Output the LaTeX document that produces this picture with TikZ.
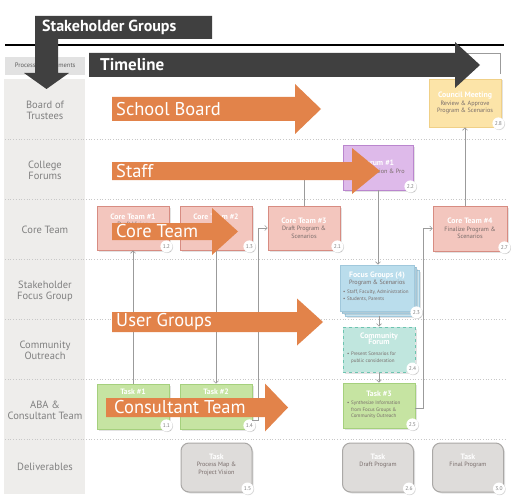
\documentclass[tikz,border=0pt]{standalone}
\usepackage{fontspec}
\setmainfont{PT Sans}
\usetikzlibrary{arrows.meta,shadows}
\definecolor{orA}{RGB}{226,131,74}
\definecolor{darkA}{RGB}{64,64,64}
\definecolor{pinkF}{RGB}{243,198,190}
\definecolor{pinkD}{RGB}{215,140,130}
\definecolor{purpF}{RGB}{222,186,234}
\definecolor{purpD}{RGB}{186,134,206}
\definecolor{yelF}{RGB}{252,228,168}
\definecolor{yelD}{RGB}{240,208,135}
\definecolor{blueF}{RGB}{186,221,236}
\definecolor{blueD}{RGB}{160,200,220}
\definecolor{tealF}{RGB}{192,230,222}
\definecolor{tealD}{RGB}{110,196,176}
\definecolor{greenF}{RGB}{198,228,162}
\definecolor{greenD}{RGB}{165,208,125}
\definecolor{grayF}{RGB}{222,220,218}
\definecolor{grayD}{RGB}{170,168,166}
\definecolor{colF}{RGB}{238,237,235}
\definecolor{preqF}{RGB}{226,226,226}
\definecolor{subT}{RGB}{120,108,106}
\definecolor{lblT}{RGB}{128,128,128}
\definecolor{connC}{RGB}{155,155,155}
\definecolor{sepC}{RGB}{200,200,200}
\newcommand\bxttl[1]{{\fontsize{7.8}{9}\selectfont\bfseries\color{white}#1}}
\newcommand\orarr[6]{\fill[orA] (#1,#2-#3) -- (#4,#2-#3) -- (#4,#2-#5) -- (#6,#2) -- (#4,#2+#5) -- (#4,#2+#3) -- (#1,#2+#3) -- cycle;}
\begin{document}
\begin{tikzpicture}[x=1pt,y=-1pt,
  box/.style={rectangle, minimum width=72pt, minimum height=45pt, inner sep=1pt, align=center, line width=0.8pt, text=subT,
    font=\fontsize{6.2}{7.4}\selectfont, drop shadow={shadow xshift=1.5pt, shadow yshift=-1.5pt, opacity=0.22}},
  pinkbox/.style={box, fill=pinkF, draw=pinkD},
  greenbox/.style={box, fill=greenF, draw=greenD},
  delbox/.style={rectangle, rounded corners=8pt, minimum width=71pt, minimum height=49pt, fill=grayF, draw=grayD, line width=1pt,
    drop shadow={shadow xshift=1.5pt, shadow yshift=-1.5pt, opacity=0.22}},
  btext/.style={align=center, inner sep=0pt, text=subT, font=\fontsize{6.2}{7.6}\selectfont},
  bull/.style={align=left, inner sep=0pt, text=subT, font=\fontsize{5}{6.4}\selectfont},
  badge/.style={circle, fill=white, inner sep=0pt, minimum size=12pt, font=\fontsize{5.5}{6}\selectfont, text=gray,
    drop shadow={shadow xshift=0.7pt, shadow yshift=-0.7pt, opacity=0.3}},
  rowlbl/.style={align=center, inner sep=0pt, text=lblT, font=\fontsize{10.5}{11}\selectfont},
  sep/.style={draw=sepC, dotted, line width=0.7pt},
  conn/.style={draw=connC, line width=0.6pt, -{Straight Barb[length=2.5pt,width=5pt]}},
  ortxt/.style={anchor=west, inner sep=0pt, text=white, font=\fontsize{18.5}{19}\selectfont},
  darktxt/.style={anchor=west, inner sep=0pt, text=white, font=\fontsize{16}{17}\selectfont\bfseries}]
\useasboundingbox (0,0) rectangle (511,500);
\fill[white] (0,0) rectangle (511,500);
% label column
\fill[colF] (4,79) rectangle (85,494);
\node[fill=preqF, minimum width=80pt, minimum height=18pt, inner sep=0pt, anchor=north west, text=darkA!85,
  font=\fontsize{6.5}{7}\selectfont] (preq) at (5,57) {Process Requirements};
\foreach \yy in {139,199,259,319,379,439} \draw[sep] (5,\yy) -- (507,\yy);
\draw[black, line width=1.3pt] (5,45) -- (504,45);
\draw[connC, line width=0.8pt] (460,53) -- (500,53) -- (500,74);
% row labels
\node[rowlbl] (rl1) at (45,110) {Board of\\Trustees};
\node[rowlbl] (rl2) at (45,170) {College\\Forums};
\node[rowlbl] (rl3) at (45,230) {Core Team};
\node[rowlbl] (rl4) at (45,291) {Stakeholder\\Focus Group};
\node[rowlbl] (rl5) at (45,350) {Community\\Outreach};
\node[rowlbl] (rl6) at (45,410) {ABA \&\\Consultant Team};
\node[rowlbl] (rl7) at (45,467) {Deliverables};
% boxes
\node[box, fill=yelF, draw=yelD, minimum height=48pt] (cm) at (465,103) {\bxttl{Council Meeting}\\Review \& Approve\\Program \& Scenarios};
\node[badge] (bcm) at ([xshift=-3pt,yshift=4pt]cm.south east) {2.8};
\node[box, fill=purpF, draw=purpD, minimum width=70pt] (f1) at (378,167.5) {\bxttl{Forum \#1}\\Project Vision \& Pro};
\node[badge] (bf1) at ([xshift=-3pt,yshift=4pt]f1.south east) {2.2};
\node[pinkbox, minimum height=44pt] (ct1) at (133,228) {};
\node[btext, anchor=north] (ct1t) at ([yshift=-8pt]ct1.north) {\bxttl{Core Team \#1}\\Draft Vision};
\node[badge] (bct1) at ([xshift=-3pt,yshift=4pt]ct1.south east) {1.2};
\node[pinkbox, minimum height=44pt] (ct2) at (216,228) {};
\node[btext, anchor=north] (ct2t) at ([yshift=-8pt]ct2.north) {\bxttl{Core Team \#2}};
\node[badge] (bct2) at ([xshift=-3pt,yshift=4pt]ct2.south east) {1.3};
\node[pinkbox, minimum height=44pt] (ct3) at (304,228) {\bxttl{Core Team \#3}\\Draft Program \&\\Scenarios};
\node[badge] (bct3) at ([xshift=-3pt,yshift=4pt]ct3.south east) {2.1};
\node[pinkbox, minimum width=74pt] (ct4) at (470,228.5) {\bxttl{Core Team \#4}\\Finalize Program \&\\Scenarios};
\node[badge] (bct4) at ([xshift=-3pt,yshift=4pt]ct4.south east) {2.7};
% focus groups stack
\node[box, fill=blueF!80, draw=blueD, minimum width=74pt, minimum height=46pt] (fgb2) at (382,293) {};
\node[box, fill=blueF!90, draw=blueD, minimum width=74pt, minimum height=46pt] (fgb1) at (379.5,290.5) {};
\node[box, fill=blueF, draw=blueD, minimum width=74pt, minimum height=46pt] (fg) at (377,288) {};
\node[btext, anchor=north] (fgt) at ([yshift=-7pt]fg.north) {\bxttl{Focus Groups (4)}\\Program \& Scenarios};
\node[bull, anchor=north west] (fgl) at (343,290) {•\,\,Staff, Faculty, Administration\\•\,\,Students, Parents};
\node[badge] (bfg) at ([xshift=2pt,yshift=-1pt]fg.south east) {2.3};
% community forum
\node[box, fill=tealF, draw=tealD, dashed, line width=1pt] (cf) at (379,349.5) {};
\node[btext, anchor=north] (cft) at ([yshift=-6pt]cf.north) {\bxttl{Community}\\[-1pt]\bxttl{Forum}};
\node[bull, anchor=north west] (cfl) at (347,352) {•\,\,Present Scenarios for\\\phantom{•\,\,}public consideration};
\node[badge] (bcf) at ([xshift=-3pt,yshift=4pt]cf.south east) {2.4};
% ABA row
\node[greenbox] (t1) at (133,406.5) {};
\node[btext, anchor=north] (t1t) at ([yshift=-5pt]t1.north) {\bxttl{Task \#1}};
\node[badge] (bt1) at ([xshift=-3pt,yshift=4pt]t1.south east) {1.1};
\node[greenbox] (t2) at (216,406.5) {};
\node[btext, anchor=north] (t2t) at ([yshift=-5pt]t2.north) {\bxttl{Task \#2}};
\node[badge] (bt2) at ([xshift=-3pt,yshift=4pt]t2.south east) {1.4};
\node[greenbox] (t3) at (379,405.5) {};
\node[btext, anchor=north] (t3t) at ([yshift=-8pt]t3.north) {\bxttl{Task \#3}};
\node[bull, anchor=north west] (t3l) at (347,401) {•\,\,Synthesize Information\\\phantom{•\,\,}from Focus Groups \&\\\phantom{•\,\,}Community Outreach};
\node[badge] (bt3) at ([xshift=-3pt,yshift=4pt]t3.south east) {2.5};
% deliverables
\node[delbox] (d1) at (216.5,467.5) {};
\node[btext, anchor=north] (d1t) at ([yshift=-11pt]d1.north) {\bxttl{Task}\\Process Map \&\\Project Vision};
\node[badge] (bd1) at ([xshift=-5pt,yshift=4pt]d1.south east) {1.5};
\node[delbox] (d2) at (378,467.5) {};
\node[btext, anchor=north] (d2t) at ([yshift=-11pt]d2.north) {\bxttl{Task}\\Draft Program};
\node[badge] (bd2) at ([xshift=-5pt,yshift=4pt]d2.south east) {2.6};
\node[delbox] (d3) at (468,467.5) {};
\node[btext, anchor=north] (d3t) at ([yshift=-11pt]d3.north) {\bxttl{Task}\\Final Program};
\node[badge] (bd3) at ([xshift=-5pt,yshift=4pt]d3.south east) {3.0};
% connectors
\draw[conn] (t1.north) -- (ct1.south);
\draw[conn] (ct2.south) -- (t2.north);
\draw[conn] ([yshift=-14pt]t2.east) -- ++(6,0) |- (ct3.west);
\draw[conn] (ct3.north) |- (f1.west);
\draw[conn] (f1.south) -- (f1.south |- fg.north);
\draw[conn] ([yshift=-5pt]fg.south -| cf.north) -- (cf.north);
\draw[conn] (cf.south) -- (t3.north);
\draw[conn] ([yshift=-3pt]t3.east) -- ++(8,0) |- (ct4.west);
\draw[conn] (ct4.north -| cm.south) -- (cm.south);
% orange arrows
\orarr{112}{109}{12}{295}{25}{321}
\node[ortxt] (osb) at (116,109) {School Board};
\orarr{112}{171}{9}{352}{23}{380}
\node[ortxt] (ost) at (116,171) {Staff};
\orarr{112}{231.5}{8.5}{212}{23.5}{238}
\node[ortxt] (oct) at (116,231.5) {Core Team};
\orarr{112}{322}{10}{297}{23.5}{323}
\node[ortxt] (oug) at (116,322) {User Groups};
\orarr{106}{407.5}{9.5}{265}{24}{288}
\node[ortxt] (oco) at (114,407.5) {Consultant Team};
% dark arrows
\fill[darkA] (35,16) -- (212,16) -- (212,39) -- (58,39) -- (58,73) -- (69,73) -- (46.5,89) -- (24,73) -- (35,73) -- cycle;
\node[darktxt] (sg) at (42,27.5) {Stakeholder Groups};
\fill[darkA] (89,53) -- (455,53) -- (455,42) -- (480,65) -- (455,88) -- (455,77) -- (89,77) -- cycle;
\node[darktxt, font=\fontsize{17}{18}\selectfont\bfseries] (tl) at (100,65) {Timeline};
\end{tikzpicture}
\end{document}
